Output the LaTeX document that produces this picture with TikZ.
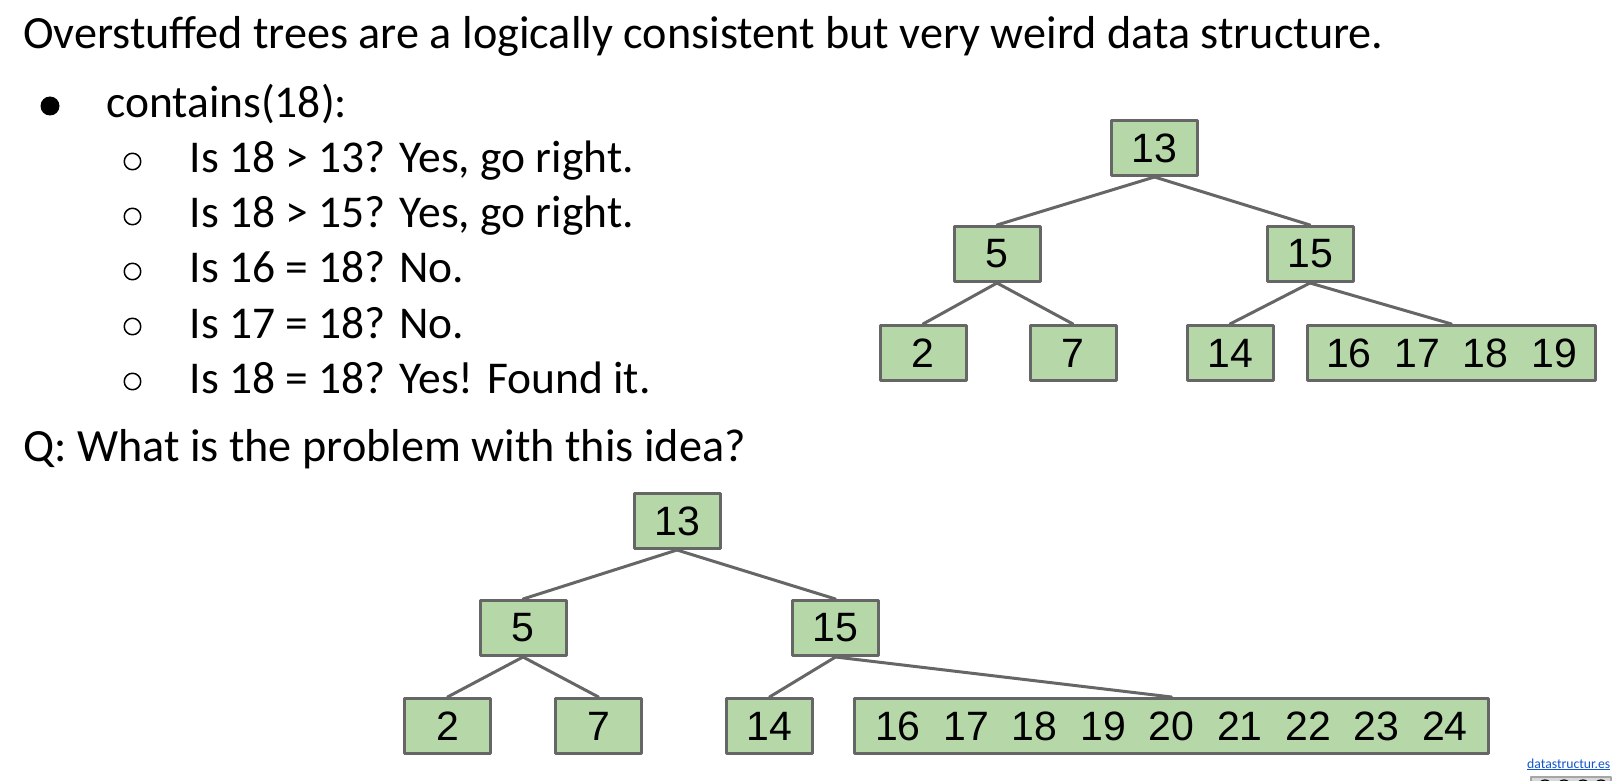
\documentclass[tikz,border=0pt]{standalone}
\usepackage{fontspec}
\setmainfont{Carlito}
\newfontfamily\numfont{Liberation Sans}
\usetikzlibrary{positioning}

\definecolor{keygreen}{HTML}{B6D7A8}
\definecolor{linegray}{HTML}{666666}
\definecolor{linkblue}{HTML}{1155CC}

\begin{document}
\begin{tikzpicture}[
    x=1pt, y=-1pt,
    line cap=round,
    line join=round,
    keybox/.style={draw=linegray, fill=keygreen, line width=3pt, inner sep=0pt,
        minimum width=86pt, minimum height=55pt, font=\numfont\fontsize{41}{48}\selectfont},
    branch/.style={draw=linegray, line width=3pt},
    txt/.style={anchor=base west, inner sep=0pt, font=\fontsize{45.5}{55}\selectfont},
    headtxt/.style={txt, font=\fontsize{46.2}{55}\selectfont},
    bigdot/.style={circle, fill=black, minimum size=19pt, inner sep=0pt},
    subdot/.style={circle, draw=black, line width=1.5pt, minimum size=16.5pt, inner sep=0pt},
    weblink/.style={anchor=base west, inner sep=0pt, text=linkblue, font=\fontsize{13.7}{16}\selectfont}
]
\useasboundingbox (0,0) rectangle (1615,781);

% ------------------------
% Text column
% ------------------------
\node[headtxt] (title) at (23,49) {Overstuffed trees are a logically consistent but very weird data structure.};

\node[bigdot] (b0) at (50,106) {};
\node[txt] (call) at (106,118) {contains(18):};

\node[subdot] (o1) at (132.5,161.5) {};
\node[txt] (s1) at (189.5,172) {Is 18 > 13? Yes, go right.};
\node[subdot] (o2) at (132.5,216.5) {};
\node[txt] (s2) at (189.5,227) {Is 18 > 15? Yes, go right.};
\node[subdot] (o3) at (132.5,271.5) {};
\node[txt] (s3) at (189.5,282) {Is 16 = 18? No.};
\node[subdot] (o4) at (132.5,326.5) {};
\node[txt] (s4) at (189.5,338) {Is 17 = 18? No.};
\node[subdot] (o5) at (132.5,381.5) {};
\node[txt] (s5) at (189.5,393) {Is 18 = 18? Yes! Found it.};

\node[headtxt] (question) at (23,461.5) {Q: What is the problem with this idea?};

% ------------------------
% Upper tree (four keys in the last leaf)
% ------------------------
\node[keybox] (a13) at (1154.5,148) {13};
\node[keybox] (a5) at (997,254) {5};
\node[keybox] (a15) at (1310,254) {15};
\node[keybox] (a2) at (923,353) {2};
\node[keybox] (a7) at (1073,353) {7};
\node[keybox] (a14) at (1230,353) {14};
\node[keybox, minimum width=288pt] (aleaf) at (1451.5,353) {16~~17~~18~~19};

\draw[branch] (a13.south) -- (a5.north);
\draw[branch] (a13.south) -- (a15.north);
\draw[branch] (a5.south) -- (a2.north);
\draw[branch] (a5.south) -- (a7.north);
\draw[branch] (a15.south) -- (a14.north);
\draw[branch] (a15.south) -- (aleaf.north);

% ------------------------
% Lower tree (nine keys in the last leaf)
% ------------------------
\node[keybox] (b13) at (677,521) {13};
\node[keybox] (b5) at (523,628) {5};
\node[keybox] (b15) at (835.5,628) {15};
\node[keybox] (b2) at (447.5,726) {2};
\node[keybox] (b7) at (598.5,726) {7};
\node[keybox] (b14) at (769.5,726) {14};
\node[keybox, minimum width=634pt] (bleaf) at (1171.5,726) {16~~17~~18~~19~~20~~21~~22~~23~~24};

\draw[branch] (b13.south) -- (b5.north);
\draw[branch] (b13.south) -- (b15.north);
\draw[branch] (b5.south) -- (b2.north);
\draw[branch] (b5.south) -- (b7.north);
\draw[branch] (b15.south) -- (b14.north);
\draw[branch] (b15.south) -- (bleaf.north);

% ------------------------
% Footer link and licence badge (cut off at the bottom)
% ------------------------
\node[weblink] (site) at (1527,768) {\underline{datastructur.es}};
\begin{scope}
    \clip (1525,774) rectangle (1615,781);
    \draw[draw=gray!70, fill=gray!30, line width=1.5pt] (1531,777) rectangle (1611,790);
    \foreach \cx in {1545,1564,1583,1601}
        \draw[line width=1.2pt, fill=white] (\cx,787) circle (7);
\end{scope}

\end{tikzpicture}
\end{document}
